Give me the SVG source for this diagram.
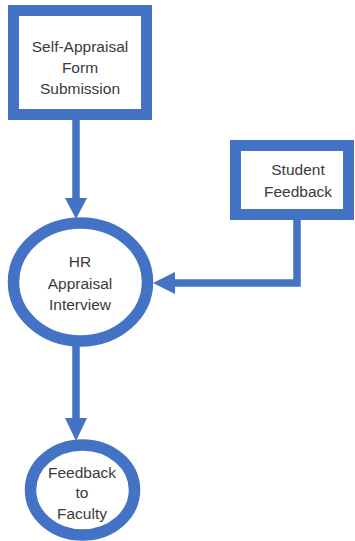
<svg xmlns="http://www.w3.org/2000/svg" width="355" height="541" viewBox="0 0 355 541">
  <style>
    .box { fill: #ffffff; stroke: #4472c4; stroke-width: 11; }
    .ring { fill: #ffffff; stroke: #4472c4; stroke-width: 11.5; }
    .link { fill: none; stroke: #4472c4; stroke-width: 7.5; stroke-linejoin: miter; }
    .head { fill: #4472c4; }
    text { font-family: "Liberation Sans", Arial, sans-serif; font-size: 15.5px; fill: #3a3a3a; text-anchor: middle; }
  </style>
  <rect width="355" height="541" fill="#ffffff"/>

  <g id="connectors">
    <!-- form submission to interview -->
    <line class="link" x1="76" y1="118" x2="76" y2="200"/>
    <polygon class="head" points="65,198 87,198 76,219"/>
    <!-- student feedback to interview -->
    <polyline class="link" points="297,214 297,283 172,283"/>
    <polygon class="head" points="175,272 175,294 153,283"/>
    <!-- interview to feedback -->
    <line class="link" x1="76" y1="344" x2="76" y2="420"/>
    <polygon class="head" points="65,418 87,418 76,441"/>
  </g>

  <g id="self-appraisal">
    <rect class="box" x="13.5" y="10.5" width="133" height="104"/>
    <text x="80" y="52">Self-Appraisal</text>
    <text x="80" y="73">Form</text>
    <text x="80" y="94">Submission</text>
  </g>

  <g id="student-feedback">
    <rect class="box" x="235.5" y="145.5" width="113" height="69"/>
    <text x="298" y="175">Student</text>
    <text x="298" y="197">Feedback</text>
  </g>

  <g id="hr-interview">
    <ellipse class="ring" cx="80.5" cy="282" rx="67" ry="59"/>
    <text x="80" y="267">HR</text>
    <text x="80" y="289">Appraisal</text>
    <text x="80" y="310">Interview</text>
  </g>

  <g id="faculty-feedback">
    <ellipse class="ring" cx="82.5" cy="490" rx="52" ry="45"/>
    <text x="82" y="478">Feedback</text>
    <text x="82" y="498">to</text>
    <text x="82" y="519">Faculty</text>
  </g>
</svg>
